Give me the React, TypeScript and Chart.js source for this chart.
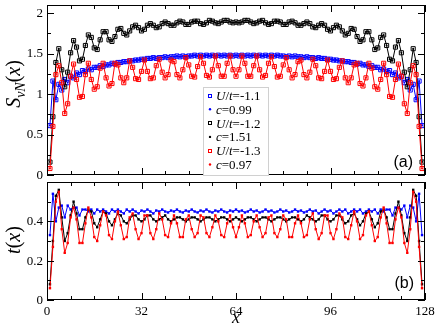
import React, { useEffect, useRef } from "react";
import { Chart, registerables } from "chart.js";

Chart.register(...registerables);

// ---------- data ----------
const sites = Array.from({ length: 127 }, (_, i) => i + 1);

// Panel (a): entanglement entropy S_vN(x)
const blueS = [
  0.61, 1.16, 0.93, 1.12, 1.05, 1.18, 1.14, 1.22, 1.20, 1.26, 1.24, 1.29, 1.28, 1.31, 1.30, 1.33, 1.33, 1.35, 1.34, 1.36,
  1.36, 1.38, 1.37, 1.39, 1.39, 1.40, 1.40, 1.41, 1.41, 1.42, 1.42, 1.43, 1.43, 1.44, 1.44, 1.45, 1.44, 1.45, 1.45, 1.46,
  1.45, 1.46, 1.46, 1.47, 1.46, 1.47, 1.46, 1.47, 1.47, 1.48, 1.47, 1.48, 1.47, 1.48, 1.47, 1.48, 1.47, 1.48, 1.47, 1.48,
  1.47, 1.48, 1.47, 1.48,
  1.47, 1.48, 1.47, 1.48, 1.47, 1.48, 1.47, 1.48, 1.47, 1.48, 1.47, 1.48, 1.47, 1.48, 1.47, 1.47, 1.46, 1.47, 1.46, 1.47,
  1.46, 1.46, 1.45, 1.46, 1.45, 1.45, 1.44, 1.45, 1.44, 1.44, 1.43, 1.43, 1.42, 1.42, 1.41, 1.41, 1.40, 1.40, 1.39, 1.39,
  1.37, 1.38, 1.36, 1.36, 1.34, 1.35, 1.33, 1.33, 1.30, 1.31, 1.28, 1.29, 1.24, 1.26, 1.20, 1.22, 1.14, 1.18, 1.05, 1.12,
  0.93, 1.16, 0.61,
];
const blackS = [
  0.16, 0.72, 1.39, 1.56, 1.30, 1.09, 1.27, 1.51, 1.66, 1.58, 1.41, 1.43, 1.60, 1.73, 1.70, 1.57, 1.55, 1.67, 1.77, 1.77,
  1.67, 1.65, 1.71, 1.80, 1.81, 1.75, 1.73, 1.78, 1.83, 1.85, 1.82, 1.78, 1.80, 1.85, 1.87, 1.85, 1.82, 1.83, 1.87, 1.89,
  1.87, 1.85, 1.85, 1.88, 1.90, 1.89, 1.86, 1.86, 1.89, 1.90, 1.90, 1.87, 1.86, 1.88, 1.91, 1.90, 1.88, 1.87, 1.89, 1.91,
  1.91, 1.89, 1.88, 1.89,
  1.88, 1.89, 1.91, 1.91, 1.89, 1.87, 1.88, 1.90, 1.91, 1.88, 1.86, 1.87, 1.90, 1.90, 1.89, 1.86, 1.86, 1.89, 1.90, 1.88,
  1.85, 1.85, 1.87, 1.89, 1.87, 1.83, 1.82, 1.85, 1.87, 1.85, 1.80, 1.78, 1.82, 1.85, 1.83, 1.78, 1.73, 1.75, 1.81, 1.80,
  1.71, 1.65, 1.67, 1.77, 1.77, 1.67, 1.55, 1.57, 1.70, 1.73, 1.60, 1.43, 1.41, 1.58, 1.66, 1.51, 1.27, 1.09, 1.30, 1.56,
  1.39, 0.72, 0.16,
];
const redS = [
  0.08, 0.60, 1.24, 1.35, 1.14, 0.76, 0.88, 1.22, 1.37, 1.18, 0.96, 0.97, 1.24, 1.38, 1.18, 1.06, 1.09, 1.32, 1.38, 1.20,
  1.10, 1.13, 1.38, 1.36, 1.20, 1.14, 1.20, 1.41, 1.33, 1.19, 1.18, 1.28, 1.42, 1.28, 1.19, 1.20, 1.35, 1.43, 1.27, 1.20,
  1.24, 1.42, 1.40, 1.24, 1.20, 1.30, 1.45, 1.36, 1.22, 1.21, 1.34, 1.46, 1.38, 1.23, 1.21, 1.30, 1.47, 1.35, 1.22, 1.22,
  1.38, 1.47, 1.30, 1.22,
  1.30, 1.47, 1.38, 1.22, 1.22, 1.35, 1.47, 1.30, 1.21, 1.23, 1.38, 1.46, 1.34, 1.21, 1.22, 1.36, 1.45, 1.30, 1.20, 1.24,
  1.40, 1.42, 1.24, 1.20, 1.27, 1.43, 1.35, 1.20, 1.19, 1.28, 1.42, 1.28, 1.18, 1.19, 1.33, 1.41, 1.20, 1.14, 1.20, 1.36,
  1.38, 1.13, 1.10, 1.20, 1.38, 1.32, 1.09, 1.06, 1.18, 1.38, 1.24, 0.97, 0.96, 1.18, 1.37, 1.22, 0.88, 0.76, 1.14, 1.35,
  1.24, 0.60, 0.08,
];

// Panel (b): t(x)
const blueT = [
  0.33, 0.54, 0.40, 0.47, 0.48, 0.42, 0.48, 0.46, 0.47, 0.47, 0.43, 0.46, 0.46, 0.45, 0.46, 0.44, 0.46, 0.45, 0.46, 0.45,
  0.44, 0.46, 0.45, 0.46, 0.45, 0.44, 0.46, 0.45, 0.46, 0.45, 0.44, 0.455, 0.45, 0.46, 0.45, 0.44, 0.455, 0.45, 0.46, 0.45,
  0.445, 0.455, 0.45, 0.46, 0.45, 0.445, 0.455, 0.45, 0.46, 0.45, 0.445, 0.455, 0.45, 0.46, 0.45, 0.445, 0.455, 0.45, 0.46, 0.45,
  0.445, 0.455, 0.45, 0.46,
  0.45, 0.455, 0.445, 0.45, 0.46, 0.45, 0.455, 0.445, 0.45, 0.46, 0.45, 0.455, 0.445, 0.45, 0.46, 0.45, 0.455, 0.445, 0.45, 0.46,
  0.45, 0.455, 0.445, 0.45, 0.46, 0.45, 0.455, 0.44, 0.45, 0.46, 0.45, 0.455, 0.44, 0.45, 0.46, 0.45, 0.46, 0.44, 0.45, 0.46,
  0.45, 0.46, 0.44, 0.45, 0.46, 0.45, 0.46, 0.44, 0.46, 0.45, 0.46, 0.46, 0.43, 0.47, 0.47, 0.46, 0.48, 0.42, 0.48, 0.47,
  0.40, 0.54, 0.33,
];
const blackT = [
  0.08, 0.30, 0.53, 0.56, 0.42, 0.30, 0.34, 0.43, 0.50, 0.44, 0.36, 0.36, 0.42, 0.46, 0.45, 0.39, 0.37, 0.41, 0.45, 0.44,
  0.40, 0.38, 0.41, 0.44, 0.43, 0.40, 0.39, 0.41, 0.43, 0.43, 0.41, 0.40, 0.41, 0.43, 0.43, 0.41, 0.40, 0.41, 0.42, 0.43,
  0.41, 0.40, 0.41, 0.42, 0.42, 0.41, 0.40, 0.41, 0.42, 0.42, 0.41, 0.40, 0.41, 0.42, 0.42, 0.41, 0.40, 0.41, 0.42, 0.42,
  0.41, 0.40, 0.41, 0.42,
  0.41, 0.40, 0.41, 0.42, 0.42, 0.41, 0.40, 0.41, 0.42, 0.42, 0.41, 0.40, 0.41, 0.42, 0.42, 0.41, 0.40, 0.41, 0.42, 0.42,
  0.41, 0.40, 0.41, 0.43, 0.42, 0.41, 0.40, 0.41, 0.43, 0.43, 0.41, 0.40, 0.41, 0.43, 0.43, 0.41, 0.39, 0.40, 0.43, 0.44,
  0.41, 0.38, 0.40, 0.44, 0.45, 0.41, 0.37, 0.39, 0.45, 0.46, 0.42, 0.36, 0.36, 0.44, 0.50, 0.43, 0.34, 0.30, 0.42, 0.56,
  0.53, 0.30, 0.08,
];
const redT = [
  0.06, 0.27, 0.50, 0.55, 0.36, 0.24, 0.29, 0.42, 0.47, 0.41, 0.29, 0.29, 0.39, 0.47, 0.42, 0.32, 0.30, 0.38, 0.45, 0.43,
  0.33, 0.31, 0.40, 0.45, 0.38, 0.31, 0.32, 0.42, 0.44, 0.36, 0.31, 0.34, 0.43, 0.43, 0.34, 0.31, 0.36, 0.44, 0.41, 0.33,
  0.32, 0.39, 0.43, 0.39, 0.32, 0.32, 0.41, 0.43, 0.36, 0.32, 0.34, 0.43, 0.42, 0.34, 0.32, 0.37, 0.43, 0.40, 0.33, 0.32,
  0.39, 0.43, 0.37, 0.32,
  0.37, 0.43, 0.39, 0.32, 0.33, 0.40, 0.43, 0.37, 0.32, 0.34, 0.42, 0.43, 0.34, 0.32, 0.36, 0.43, 0.41, 0.32, 0.32, 0.39,
  0.43, 0.39, 0.32, 0.33, 0.41, 0.44, 0.36, 0.31, 0.34, 0.43, 0.43, 0.34, 0.31, 0.36, 0.44, 0.42, 0.32, 0.31, 0.38, 0.45,
  0.40, 0.31, 0.33, 0.43, 0.45, 0.38, 0.30, 0.32, 0.42, 0.47, 0.39, 0.29, 0.29, 0.41, 0.47, 0.42, 0.29, 0.24, 0.36, 0.55,
  0.50, 0.27, 0.06,
];

const seriesNames = ["U/t=-1.1", "U/t=-1.2", "U/t=-1.3"];
const fitNames = ["c=0.99", "c=1.51", "c=0.97"];
const seriesColors = ["#0000ff", "#000000", "#ff0000"];

const xMajorTicks = [0, 32, 64, 96, 128];
const xTickLabels = ["0", "32", "64", "96", "128"];
const xMinorTicks = [8, 16, 24, 40, 48, 56, 72, 80, 88, 104, 112, 120];
const sMajorTicks = [0, 0.5, 1, 1.5, 2];
const sTickLabels = ["0", "0.5", "1", "1.5", "2"];
const sMinorTicks = [0.25, 0.75, 1.25, 1.75];
const tMajorTicks = [0, 0.2, 0.4];
const tTickLabels = ["0", "0.2", "0.4"];
const tMinorTicks = [0.1, 0.3, 0.5];

const SERIF = '"Liberation Serif", "DejaVu Serif", serif';
const SANS = '"Liberation Sans", Arial, sans-serif';

type Seg = { t: string; it?: boolean; size: number; dy?: number };

function drawSegs(ctx: CanvasRenderingContext2D, segs: Seg[], x: number, y: number, align: "left" | "center") {
  ctx.textAlign = "left";
  ctx.textBaseline = "alphabetic";
  const widths = segs.map((s) => {
    ctx.font = `${s.it ? "italic " : ""}${s.size}px ${SERIF}`;
    return ctx.measureText(s.t).width;
  });
  const total = widths.reduce((a, b) => a + b, 0);
  let cx = align === "center" ? x - total / 2 : x;
  segs.forEach((s, i) => {
    ctx.font = `${s.it ? "italic " : ""}${s.size}px ${SERIF}`;
    ctx.fillText(s.t, cx, y + (s.dy || 0));
    cx += widths[i];
  });
}

function labelSegs(text: string, size: number): Seg[] {
  return text.split("").map((ch) => ({ t: ch, it: /[A-Za-z]/.test(ch), size }));
}

function pts(vals: number[]) {
  return vals.map((v, i) => ({ x: sites[i], y: v }));
}

type PanelCfg = {
  yMajor: number[];
  yLabels: string[];
  yMinor: number[];
  showX: boolean;
  draw: (ctx: CanvasRenderingContext2D, chart: any) => void;
};

function makeDecor(cfg: PanelCfg) {
  return {
    id: "decor",
    afterDraw(chart: any) {
      const ctx: CanvasRenderingContext2D = chart.ctx;
      const { left, right, top, bottom } = chart.chartArea;
      const xs = chart.scales.x;
      const ys = chart.scales.y;
      ctx.save();
      ctx.strokeStyle = "#000";
      ctx.lineWidth = 1;
      ctx.strokeRect(left + 0.5, top + 0.5, right - left - 1, bottom - top - 1);
      const vline = (px: number, y0: number, y1: number) => {
        ctx.beginPath();
        ctx.moveTo(Math.round(px) + 0.5, y0);
        ctx.lineTo(Math.round(px) + 0.5, y1);
        ctx.stroke();
      };
      const hline = (py: number, x0: number, x1: number) => {
        ctx.beginPath();
        ctx.moveTo(x0, Math.round(py) + 0.5);
        ctx.lineTo(x1, Math.round(py) + 0.5);
        ctx.stroke();
      };
      xMajorTicks.forEach((v) => {
        const p = xs.getPixelForValue(v);
        vline(p, bottom, bottom - 7);
        vline(p, top, top + 7);
      });
      xMinorTicks.forEach((v) => {
        const p = xs.getPixelForValue(v);
        vline(p, bottom, bottom - 4);
        vline(p, top, top + 4);
      });
      cfg.yMajor.forEach((v) => {
        const p = ys.getPixelForValue(v);
        hline(p, left, left + 7);
        hline(p, right, right - 7);
      });
      cfg.yMinor.forEach((v) => {
        const p = ys.getPixelForValue(v);
        hline(p, left, left + 4);
        hline(p, right, right - 4);
      });
      ctx.fillStyle = "#000";
      ctx.font = `13px ${SERIF}`;
      ctx.textAlign = "right";
      ctx.textBaseline = "middle";
      cfg.yMajor.forEach((v, i) => {
        ctx.fillText(cfg.yLabels[i], left - 4, ys.getPixelForValue(v) + 0.5);
      });
      if (cfg.showX) {
        ctx.textAlign = "center";
        ctx.textBaseline = "alphabetic";
        xMajorTicks.forEach((v, i) => {
          ctx.fillText(xTickLabels[i], xs.getPixelForValue(v), bottom + 15);
        });
      }
      cfg.draw(ctx, chart);
      ctx.restore();
    },
  };
}

function buildDatasets(values: number[][], bottom: boolean) {
  const order = [2, 1, 0];
  const ds: any[] = [];
  order.forEach((k) => {
    const col = seriesColors[k];
    if (bottom) {
      ds.push({
        data: pts(values[k]),
        borderColor: col,
        borderWidth: 1,
        pointStyle: "rect",
        pointRadius: 1.7,
        pointBorderWidth: 0,
        pointBackgroundColor: col,
        pointBorderColor: col,
        tension: 0,
      });
    } else {
      ds.push({
        data: pts(values[k]),
        borderColor: col,
        borderWidth: 1,
        pointStyle: "rect",
        pointRadius: 2.9,
        pointBorderWidth: 1,
        pointBackgroundColor: "rgba(0,0,0,0)",
        pointBorderColor: col,
        tension: 0,
      });
      ds.push({
        data: pts(values[k]),
        showLine: false,
        pointStyle: "circle",
        pointRadius: 1,
        pointBorderWidth: 0,
        pointBackgroundColor: col,
        borderColor: col,
      });
    }
  });
  return ds;
}

function baseOptions(ymax: number, padding: any) {
  return {
    responsive: false,
    animation: false as const,
    devicePixelRatio: 1,
    events: [],
    layout: { padding },
    plugins: { legend: { display: false }, tooltip: { enabled: false } },
    scales: {
      x: { type: "linear" as const, min: 0, max: 128, display: false },
      y: { type: "linear" as const, min: 0, max: ymax, display: false },
    },
  };
}

export default function App() {
  const topRef = useRef<HTMLCanvasElement>(null);
  const botRef = useRef<HTMLCanvasElement>(null);

  useEffect(() => {
    const topDecor = makeDecor({
      yMajor: sMajorTicks,
      yLabels: sTickLabels,
      yMinor: sMinorTicks,
      showX: false,
      draw: (ctx, chart) => {
        // y title S_vN(x)
        ctx.save();
        ctx.translate(20, 84);
        ctx.rotate(-Math.PI / 2);
        ctx.fillStyle = "#000";
        drawSegs(
          ctx,
          [
            { t: "S", it: true, size: 20 },
            { t: "vN", it: true, size: 14, dy: 5 },
            { t: "(", size: 20 },
            { t: "x", it: true, size: 20 },
            { t: ")", size: 20 },
          ],
          0,
          0,
          "center"
        );
        ctx.restore();
        // legend
        const lx = 203, ly = 87, lw = 65, lh = 88;
        ctx.fillStyle = "#fff";
        ctx.fillRect(lx, ly, lw, lh);
        ctx.strokeStyle = "#d0d0d0";
        ctx.lineWidth = 1;
        ctx.strokeRect(lx + 0.5, ly + 0.5, lw, lh);
        for (let i = 0; i < 6; i++) {
          const k = Math.floor(i / 2);
          const cy = 95.5 + i * 13.8;
          const col = seriesColors[k];
          if (i % 2 === 0) {
            ctx.strokeStyle = col;
            ctx.lineWidth = 1;
            ctx.strokeRect(208.5, Math.round(cy) - 1.5, 3, 3);
          } else {
            ctx.fillStyle = col;
            ctx.beginPath();
            ctx.arc(210, cy, 1.2, 0, Math.PI * 2);
            ctx.fill();
          }
          ctx.fillStyle = "#000";
          const txt = i % 2 === 0 ? seriesNames[k] : fitNames[k];
          drawSegs(ctx, labelSegs(txt, 13), 216, cy + 4.5, "left");
        }
        // panel label
        ctx.fillStyle = "#000";
        ctx.font = `16px ${SANS}`;
        ctx.textAlign = "right";
        ctx.textBaseline = "alphabetic";
        ctx.fillText("(a)", 413, 167);
      },
    });

    const botDecor = makeDecor({
      yMajor: tMajorTicks,
      yLabels: tTickLabels,
      yMinor: tMinorTicks,
      showX: true,
      draw: (ctx, chart) => {
        ctx.save();
        ctx.translate(20, 62);
        ctx.rotate(-Math.PI / 2);
        ctx.fillStyle = "#000";
        drawSegs(
          ctx,
          [
            { t: "t", it: true, size: 20 },
            { t: "(", size: 20 },
            { t: "x", it: true, size: 20 },
            { t: ")", size: 20 },
          ],
          0,
          0,
          "center"
        );
        ctx.restore();
        ctx.fillStyle = "#000";
        drawSegs(ctx, [{ t: "x", it: true, size: 18 }], 236, 145, "center");
        ctx.font = `16px ${SANS}`;
        ctx.textAlign = "right";
        ctx.textBaseline = "alphabetic";
        ctx.fillText("(b)", 414, 110);
      },
    });

    const c1 = new Chart(topRef.current as HTMLCanvasElement, {
      type: "line",
      data: { datasets: buildDatasets([blueS, blackS, redS], false) },
      options: baseOptions(2.1, { left: 47, right: 11, top: 1, bottom: 3 }) as any,
      plugins: [topDecor as any],
    });
    const c2 = new Chart(botRef.current as HTMLCanvasElement, {
      type: "line",
      data: { datasets: buildDatasets([blueT, blackT, redT], true) },
      options: baseOptions(0.6, { left: 47, right: 11, top: 2, bottom: 28 }) as any,
      plugins: [botDecor as any],
    });
    return () => {
      c1.destroy();
      c2.destroy();
    };
  }, []);

  return (
    <div style={{ position: "absolute", left: 0, top: 0, width: 436, height: 328, background: "#fff" }}>
      <canvas ref={topRef} width={436} height={180} style={{ position: "absolute", left: 0, top: 0 }} />
      <canvas ref={botRef} width={436} height={150} style={{ position: "absolute", left: 0, top: 178 }} />
    </div>
  );
}
